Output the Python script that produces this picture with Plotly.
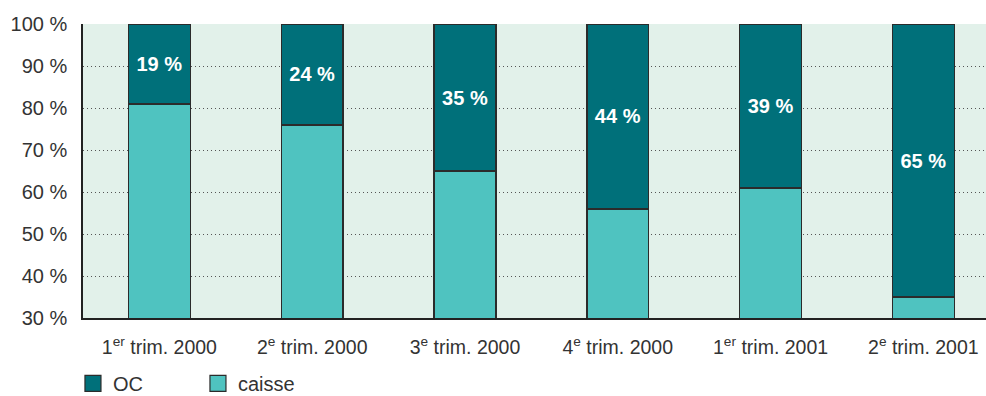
import plotly.graph_objects as go

categories = ["1<sup>er</sup> trim. 2000", "2<sup>e</sup> trim. 2000", "3<sup>e</sup> trim. 2000",
              "4<sup>e</sup> trim. 2000", "1<sup>er</sup> trim. 2001", "2<sup>e</sup> trim. 2001"]
caisse = [81, 76, 65, 56, 61, 35]
oc = [19, 24, 35, 44, 39, 65]
y_ticks = [30, 40, 50, 60, 70, 80, 90, 100]
y_tick_labels = [f"{v} %" for v in y_ticks]

FONT = "Liberation Sans, Arial, Helvetica, sans-serif"
C_OC = "#00707a"
C_CAISSE = "#4fc3c0"
line = dict(color="#2b2b2b", width=1.5)

fig = go.Figure()
fig.add_trace(go.Bar(
    x=categories, y=caisse, name="caisse", showlegend=False,
    marker=dict(color=C_CAISSE, line=line),
    width=0.405, hoverinfo="skip",
))
fig.add_trace(go.Bar(
    x=categories, y=oc, name="OC", showlegend=False,
    marker=dict(color=C_OC, line=line),
    width=0.405,
    text=[f"{v} %" for v in oc], textposition="inside",
    insidetextanchor="middle", textangle=0, constraintext="none",
    textfont=dict(family=FONT, size=20, color="white", weight="bold"),
    hoverinfo="skip",
))
# legend entries (square swatches)
for nm, col in [("OC", C_OC), ("caisse", C_CAISSE)]:
    fig.add_trace(go.Scatter(
        x=[None], y=[None], mode="markers", name=nm,
        marker=dict(symbol="square", size=16, color=col, line=dict(color="#2b2b2b", width=1.2)),
    ))

fig.update_layout(
    width=986, height=396,
    barmode="stack",
    margin=dict(l=83, r=0, t=24, b=78),
    paper_bgcolor="white",
    plot_bgcolor="#e2f1ea",
    font=dict(family=FONT, size=20, color="#333333"),
    showlegend=True,
    legend=dict(orientation="h", xref="container", yref="container",
                x=0.074, xanchor="left", y=0.032, yanchor="middle",
                font=dict(size=20, color="#333333"), entrywidth=80,
                itemsizing="trace", bgcolor="rgba(0,0,0,0)", traceorder="normal"),
)
fig.update_xaxes(
    range=[-0.5, 5.41], showgrid=False, showline=True, linecolor="#222222", linewidth=1.5,
    ticks="", tickfont=dict(size=19.5, color="#333333"), fixedrange=True,
    ticklabelstandoff=11,
)
fig.update_yaxes(
    range=[30, 100], tickvals=y_ticks, ticktext=y_tick_labels,
    showgrid=True, gridcolor="#555555", griddash="1px,3px", gridwidth=1,
    showline=True, linecolor="#222222", linewidth=1.5, zeroline=False,
    ticks="", ticklabelstandoff=10, tickfont=dict(size=20, color="#333333"),
)

fig.write_html("out.html")
